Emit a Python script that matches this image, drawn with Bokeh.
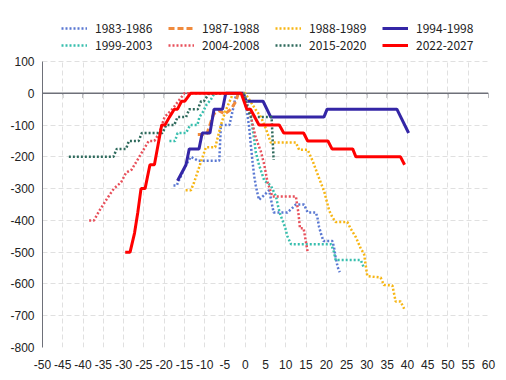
from bokeh.plotting import figure
from bokeh.models import Legend, LegendItem, FixedTicker, Span
from bokeh.embed import file_html
from bokeh.resources import INLINE

# ---- data (months relative to peak, bp change) ----
series_names = ["1983-1986", "1987-1988", "1988-1989", "1994-1998",
                "1999-2003", "2004-2008", "2015-2020", "2022-2027"]

x_1983 = [-17.7, -16.9, -14.6, -13.4, -12.6, -11.7, -6.4, -6.0, -3.9, -3.1, -2.2, -0.6,
          0.4, 1.0, 1.4, 1.8, 2.2, 2.6, 3.1, 3.4, 4.3, 5.1, 5.9, 7.0, 10.4, 11.3, 12.5,
          14.5, 15.4, 17.4, 17.8, 18.2, 18.8, 19.3, 21.5, 21.9, 22.3, 22.8, 23.3]
y_1983 = [-290, -290, -225, -200, -205, -212, -212, -100, -100, -55, 0, 0,
          -55, -110, -165, -215, -260, -290, -320, -335, -325, -315, -305, -375, -375, -365, -350,
          -350, -375, -375, -390, -420, -447, -465, -465, -485, -515, -547, -563]

x_1987 = [-11.7, -9.5, -7.8, -6.5, -5.0, -3.5, -2.3, -1.7, 0.0]
y_1987 = [-130, -130, -65, -55, -65, -50, -25, 0, 0]

x_1988 = [-14.7, -13.4, -12.6, -10.9, -9.7, -7.4, -6.0, -5.0, -3.5, -3.0, 0.0,
          2.5, 3.9, 5.1, 6.3, 12.5, 13.3, 15.4, 16.6, 17.8, 19.5, 20.7, 21.5, 22.3,
          25.2, 26.0, 27.3, 28.5, 29.3, 30.1, 33.4, 34.2, 36.3, 37.1, 38.3, 39.2]
y_1988 = [-305, -305, -280, -215, -170, -170, -100, -60, -15, 0, 0,
          -50, -75, -112, -155, -155, -178, -178, -212, -253, -310, -369, -390, -405,
          -405, -426, -453, -489, -505, -575, -580, -603, -605, -655, -655, -678]

x_1994 = [-16.7, -14.6, -13.8, -11.4, -10.6, -8.7, -7.7, -5.6, -4.8, -0.5,
          0.3, 4.4, 6.3, 19.4, 20.2, 37.4, 40.3]
y_1994 = [-275, -225, -175, -175, -125, -125, -50, -50, 0, 0,
          -25, -25, -75, -75, -50, -50, -125]

x_1999 = [-18.7, -17.3, -16.7, -14.6, -13.6, -11.8, -11.3, -10.5, -9.5, -8.5, -7.6, -0.3,
          1.5, 1.8, 2.2, 2.6, 3.4, 4.7, 6.3, 7.6, 8.0, 8.6, 9.2, 9.9, 10.4, 11.3,
          21.2, 21.9, 22.3, 28.5, 29.3]
y_1999 = [-150, -150, -125, -125, -100, -100, -75, -60, -35, -20, 0, 0,
          -75, -110, -145, -185, -225, -275, -290, -325, -350, -380, -400, -425, -450, -475,
          -475, -500, -525, -525, -550]

x_2004 = [-38.5, -37.3, -36.0, -34.0, -32.4, -30.6, -29.4, -28.0, -26.6, -25.2, -23.8,
          -22.4, -21.2, -19.9, -18.0, -16.5, -15.0, -0.5,
          1.4, 2.6, 3.9, 4.7, 5.5, 6.7, 12.5, 13.1, 13.5, 14.4, 15.4]
y_2004 = [-400, -400, -370, -330, -300, -280, -250, -240, -210, -180, -150,
          -150, -125, -75, -50, -25, 0, 0,
          -75, -140, -185, -225, -280, -325, -325, -375, -425, -425, -500]

x_2015 = [-43.5, -32.5, -31.7, -29.4, -28.7, -26.3, -25.5, -20.4, -19.5, -17.5, -16.7,
          -14.6, -13.8, -11.7, -10.9, -10.2, -8.9, -0.5, 0.6, 1.4, 6.5, 7.0]
y_2015 = [-200, -200, -175, -175, -150, -150, -125, -125, -100, -100, -75,
          -75, -50, -50, -25, -25, 0, 0, -50, -75, -75, -210]

x_2022 = [-29.6, -28.4, -27.3, -26.5, -25.7, -24.7, -23.5, -22.4, -20.6, -19.8, -18.7,
          -17.5, -16.7, -15.7, -14.9, -13.5, -1.0, 0.4, 1.3, 3.4, 8.4, 9.5, 14.4, 15.4,
          20.4, 21.4, 26.5, 27.3, 38.3, 39.3]
y_2022 = [-500, -500, -440, -375, -300, -300, -225, -225, -100, -100, -75,
          -50, -50, -25, -25, 0, 0, -50, -50, -100, -100, -125, -125, -150,
          -150, -175, -175, -200, -200, -225]

x_ticks = list(range(-50, 61, 5))
y_ticks = list(range(-800, 101, 100))

# ---- styles ----
xs = [x_1983, x_1987, x_1988, x_1994, x_1999, x_2004, x_2015, x_2022]
ys = [y_1983, y_1987, y_1988, y_1994, y_1999, y_2004, y_2015, y_2022]
colors = ["#5a78d2", "#f08a3c", "#f7b614", "#3426a6",
          "#38bfae", "#e8505b", "#2e6a5c", "#ff0000"]
dashes = ["2 2", "6 3", "2 2", "solid", "2 2", "2 2", "2 2", "solid"]
widths = [2.5, 3, 2.5, 3, 2.5, 2.5, 2.5, 3]

# frame spans the legend area too; grid/axis are bounded to the data range
p = figure(width=506, height=380, output_backend="svg", toolbar_location=None,
           x_range=(-50, 60), y_range=(-800, 292),
           min_border_left=42, min_border_right=18, min_border_top=0,
           min_border_bottom=33)
p.outline_line_color = None
p.background_fill_color = "white"
p.border_fill_color = "white"

# grid
p.xgrid.ticker = FixedTicker(ticks=x_ticks)
p.ygrid.ticker = FixedTicker(ticks=y_ticks)
p.xgrid.cross_bounds = (-800, 100)
for g in (p.xgrid, p.ygrid):
    g.grid_line_color = "#e0e0e0"
    g.grid_line_dash = "5 3"
    g.grid_line_width = 1

# axes
p.xaxis.ticker = FixedTicker(ticks=x_ticks)
p.yaxis.ticker = FixedTicker(ticks=y_ticks)
p.yaxis.bounds = (-800, 100)
p.xaxis.major_label_overrides = {t: str(t) for t in x_ticks}
p.yaxis.major_label_overrides = {t: str(t) for t in y_ticks}
p.xaxis.axis_line_color = None
p.yaxis.axis_line_color = "#6e7079"
for ax in (p.xaxis, p.yaxis):
    ax.major_tick_line_color = None
    ax.minor_tick_line_color = None
    ax.major_tick_out = 0
    ax.major_tick_in = 0
    ax.major_label_text_font = "Liberation Sans"
    ax.major_label_text_font_size = "12px"
    ax.major_label_text_color = "#222222"
p.yaxis.major_label_standoff = 8
p.xaxis.major_label_standoff = 12

# zero line with ticks
p.add_layout(Span(location=0, dimension="width", line_color="#6e7079",
                  line_width=1.5, level="underlay"))
p.segment(x0=x_ticks, y0=[0] * len(x_ticks), x1=x_ticks, y1=[-15] * len(x_ticks),
          line_color="#6e7079", line_width=1, level="underlay")

items = []
for name, x, y, c, d, w in zip(series_names, xs, ys, colors, dashes, widths):
    r = p.line(x, y, line_color=c, line_width=w, line_dash=d)
    items.append(LegendItem(label=name, renderers=[r]))

legend = Legend(items=items, ncols=4, orientation="horizontal", location="top_left")
legend.glyph_width = 26
legend.glyph_height = 14
legend.label_height = 14
legend.label_width = 73
legend.label_standoff = 8
legend.spacing = 0
legend.padding = 10
legend.margin = 19
legend.border_line_color = None
legend.background_fill_alpha = 0
legend.label_text_font = "Noto Sans CJK SC"
legend.label_text_font_size = "12px"
legend.label_text_color = "#222222"
p.add_layout(legend, "center")

open("out.html", "w").write(file_html(p, INLINE))
